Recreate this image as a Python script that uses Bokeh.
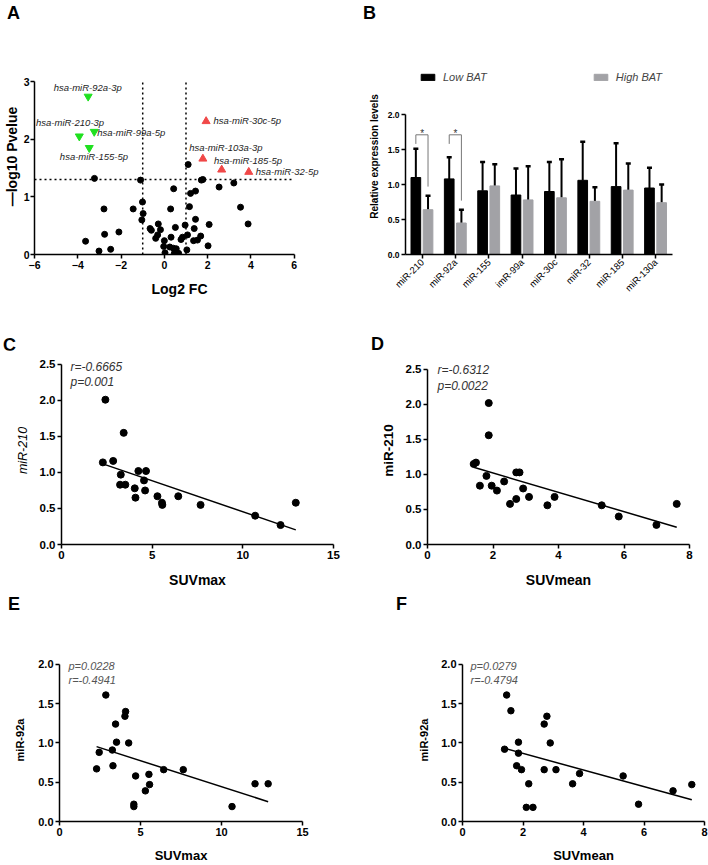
import math
import numpy as np
from bokeh.plotting import figure
from bokeh.layouts import column, row
from bokeh.models import (Range1d, FactorRange, FixedTicker, Label, ColumnDataSource,
                          PrintfTickFormatter, Div)
from bokeh.transform import dodge
from bokeh.core.properties import value
from bokeh.embed import file_html
from bokeh.resources import INLINE

FONT = "Liberation Sans"

# ---------------- Panel A : volcano ----------------
volc_fc = [-3.23, -1.10, -2.79, -3.64, -2.76, -3.02, -2.48, -2.10, -1.44, -1.01, -0.98, -1.04,
           -0.66, -0.60, -0.28, -0.18, -0.40, -0.31, 0.00, -0.03, 0.03, 0.25, 0.31, 0.41, 0.46,
           0.55, 0.66, 0.51, 0.29, 0.43, 0.77, 0.84, 0.96, 1.04, 1.07, 1.10, 1.16, 1.21, 1.35,
           1.38, 1.44, 1.44, 1.53, 1.68, 1.71, 1.78, 2.02, 2.07, 2.53, 3.21, 3.52, 3.87]
volc_p = [1.32, 1.29, 0.79, 0.23, 0.35, 0.06, 0.09, 0.39, 0.79, 0.91, 0.71, 0.60,
          0.45, 0.42, 0.53, 0.43, 0.28, 0.34, 0.24, 0.14, 0.03, 0.13, 0.30, 0.11, 0.02,
          0.10, 0.02, 0.47, 0.79, 1.14, 0.26, 0.30, 0.51, 0.08, 0.34, 1.56, 0.83, 1.06, 0.24,
          0.45, 1.10, 0.61, 0.25, 0.32, 1.29, 1.30, 0.15, 0.52, 1.17, 1.24, 0.82, 0.53]
down_names = ["hsa-miR-92a-3p", "hsa-miR-210-3p", "hsa-miR-99a-5p", "hsa-miR-155-5p"]
down_fc = [-3.52, -3.93, -3.24, -3.47]
down_p = [2.74, 2.05, 2.13, 1.85]
up_names = ["hsa-miR-30c-5p", "hsa-miR-103a-3p", "hsa-miR-185-5p", "hsa-miR-32-5p"]
up_fc = [1.93, 1.78, 2.65, 3.90]
up_p = [2.31, 1.66, 1.47, 1.43]
fc_cut = [-1, 1]
p_cut = 1.3
volc_xticks = [-6, -4, -2, 0, 2, 4, 6]
volc_yticks = [0, 1, 2, 3]

# ---------------- Panel B : bars ----------------
cats = ["miR-210", "miR-92a", "miR-155", "imR-99a", "miR-30c", "miR-32", "miR-185", "miR-130a"]
low_mean = [1.10, 1.08, 0.91, 0.85, 0.90, 1.06, 0.97, 0.95]
low_sd = [0.41, 0.31, 0.41, 0.38, 0.42, 0.55, 0.62, 0.29]
high_mean = [0.64, 0.45, 0.98, 0.78, 0.81, 0.76, 0.92, 0.74]
high_sd = [0.20, 0.19, 0.31, 0.48, 0.55, 0.20, 0.38, 0.26]
sig_cats = ["miR-210", "miR-92a"]
bar_yticks = [0, 0.5, 1.0, 1.5, 2.0]

# ---------------- Panels C-F : correlations ----------------
c_x = [2.42, 3.43, 2.28, 2.85, 3.27, 3.23, 3.52, 4.24, 4.66, 4.55, 4.04, 4.08, 4.61, 5.29,
       5.54, 5.56, 6.44, 7.67, 10.68, 12.08, 12.92]
c_y = [2.01, 1.55, 1.14, 1.16, 0.97, 0.83, 0.83, 1.02, 1.02, 0.89, 0.78, 0.65, 0.75, 0.67,
       0.58, 0.55, 0.67, 0.55, 0.40, 0.27, 0.58]
d_x = [1.41, 1.48, 1.87, 1.87, 1.80, 1.60, 1.96, 2.12, 2.34, 2.52, 2.71, 2.71, 2.81, 2.92,
       3.10, 3.66, 3.88, 5.32, 5.84, 6.99, 7.61]
d_y = [1.15, 1.17, 2.02, 1.56, 0.98, 0.84, 0.84, 0.77, 0.90, 0.58, 0.65, 1.03, 1.03, 0.80,
       0.68, 0.56, 0.68, 0.56, 0.40, 0.28, 0.58]
e_x = [2.86, 4.08, 4.04, 3.46, 3.52, 4.27, 3.26, 2.45, 2.29, 3.30, 4.70, 5.52, 5.56, 5.30,
       4.59, 4.59, 6.43, 7.64, 10.65, 12.07, 12.88]
e_y = [1.61, 1.40, 1.34, 1.24, 1.01, 1.00, 0.91, 0.88, 0.67, 0.71, 0.58, 0.60, 0.47, 0.39,
       0.22, 0.19, 0.66, 0.66, 0.19, 0.48, 0.48]
f_x = [1.46, 1.60, 1.39, 1.85, 1.85, 1.79, 1.95, 2.11, 2.33, 2.19, 2.70, 2.79, 2.90, 2.70,
       3.09, 3.64, 3.87, 5.31, 5.82, 6.96, 7.58]
f_y = [1.61, 1.41, 0.92, 1.01, 0.87, 0.71, 0.66, 0.18, 0.18, 0.48, 1.24, 1.34, 1.00, 0.66,
       0.66, 0.48, 0.61, 0.58, 0.22, 0.39, 0.47]
c_stats = ["r=-0.6665", "p=0.001"]
d_stats = ["r=-0.6312", "p=0.0022"]
e_stats = ["p=0.0228", "r=-0.4941"]
f_stats = ["p=0.0279", "r=-0.4794"]
max_xticks = [0, 5, 10, 15]
mean_xticks = [0, 2, 4, 6, 8]
y25_ticks = [0, 0.5, 1.0, 1.5, 2.0, 2.5]
y20_ticks = [0, 0.5, 1.0, 1.5, 2.0]

W = 354  # width of each figure (two per row, 708 total)


def make_fig(h, l, r, t, b, xr, yr):
    p = figure(width=W, height=h, min_border_left=l, min_border_right=r,
               min_border_top=t, min_border_bottom=b, x_range=xr, y_range=yr,
               output_backend="svg", toolbar_location=None)
    p.outline_line_color = None
    p.grid.grid_line_color = None
    p.background_fill_color = "white"
    p.border_fill_color = "white"
    return p


def style_axes(p, tick_size, xlab_size, ylab_size, xstand, ystand):
    for ax in p.axis:
        ax.axis_line_width = 1.5
        ax.axis_line_color = "black"
        ax.major_tick_line_width = 1.5
        ax.major_tick_line_color = "black"
        ax.major_tick_in = 0
        ax.major_tick_out = 4
        ax.minor_tick_line_color = None
        ax.major_label_text_font = FONT
        ax.major_label_text_font_size = tick_size
        ax.major_label_text_font_style = "bold"
        ax.major_label_text_color = "black"
        ax.major_label_standoff = 2
        ax.axis_label_text_font = FONT
        ax.axis_label_text_font_style = "bold"
        ax.axis_label_text_color = "black"
    p.xaxis.axis_label_text_font_size = xlab_size
    p.yaxis.axis_label_text_font_size = ylab_size
    p.xaxis.axis_label_standoff = xstand
    p.yaxis.axis_label_standoff = ystand


def stat_labels(p, texts, sx, sy, size, color, gap):
    for i, t in enumerate(texts):
        p.add_layout(Label(x=sx, y=sy - i * gap, x_units="screen", y_units="screen", text=t,
                           text_font=FONT, text_font_size=size, text_font_style="italic",
                           text_baseline="middle", text_align="left", text_color=color))


def letters_div(h, items):
    spans = "".join(
        '<span style="position:absolute;left:%dpx;top:%dpx;font-family:\'Liberation Sans\';'
        'font-size:18px;font-weight:bold;line-height:18px;color:#000;">%s</span>' % (lx, ly, t)
        for t, lx, ly in items)
    html = '<div style="position:relative;width:708px;height:%dpx;">%s</div>' % (h, spans)
    return Div(text=html, width=2 * W, height=h, margin=0)


# ---------- A ----------
a_top = 3.399  # frame reaches a little above the 3.0 axis end (shared frame with B)
pA = make_fig(276, 33, 30, 34, 46, Range1d(-6, 7.4), Range1d(0, a_top))
pA.segment(x0=fc_cut, x1=fc_cut, y0=[volc_yticks[0]] * 2, y1=[volc_yticks[-1]] * 2,
           line_color="black", line_width=1.5, line_dash="2 3")
pA.segment(x0=[volc_xticks[0]], x1=[volc_xticks[-1]], y0=[p_cut], y1=[p_cut],
           line_color="black", line_width=1.5, line_dash="2 3")
pA.scatter(volc_fc, volc_p, size=6, color="black")
pA.scatter(down_fc, down_p, marker="inverted_triangle", size=8, color="#1fe01f")
pA.scatter(up_fc, up_p, marker="triangle", size=8, color="#f04848")
lab_src = ColumnDataSource(dict(
    x=down_fc + up_fc, y=down_p + up_p, t=down_names + up_names,
    dx=[-34.5, -43.3, 3, -29.4, 7.4, -13.7, -7.7, 7],
    dy=[-9.5, -13.4, 0.7, 8.3, -0.7, -11.4, -9, -0.4]))
pA.text(x="x", y="y", text="t", x_offset="dx", y_offset="dy", source=lab_src,
        text_font=value(FONT), text_font_style="italic", text_font_size="9.5px",
        text_baseline="middle", text_align="left", text_color="#222222")
pA.xaxis.ticker = FixedTicker(ticks=volc_xticks)
pA.xaxis.bounds = (volc_xticks[0], volc_xticks[-1])
pA.yaxis.ticker = FixedTicker(ticks=volc_yticks)
pA.yaxis.bounds = (volc_yticks[0], volc_yticks[-1])
pA.xaxis.axis_label = "Log2 FC"
pA.yaxis.axis_label = "\u2014log10 Pvelue"
style_axes(pA, "10.5px", "14px", "14px", 9, 1)
pA.yaxis.major_label_standoff = 1

# ---------- B ----------
b_top = 2.8  # frame extends above the 2.0 axis end to hold the legend
pB = make_fig(276, 51, 36, 34, 46, FactorRange(*cats), Range1d(0, b_top))
bsrc = ColumnDataSource(dict(
    cat=cats, low=low_mean, high=high_mean,
    low_up=[m + s for m, s in zip(low_mean, low_sd)],
    high_up=[m + s for m, s in zip(high_mean, high_sd)]))
off_l, off_h, bw = -0.19, 0.175, 0.29
xl = dodge("cat", off_l, range=pB.x_range)
xh = dodge("cat", off_h, range=pB.x_range)
pB.segment(x0=xl, x1=xl, y0="low", y1="low_up", source=bsrc, line_color="black", line_width=2)
pB.segment(x0=xh, x1=xh, y0="high", y1="high_up", source=bsrc, line_color="black", line_width=2)
pB.scatter(x=xl, y="low_up", source=bsrc, marker="dash", size=5, line_width=2.5, line_color="black")
pB.scatter(x=xh, y="high_up", source=bsrc, marker="dash", size=5, line_width=2.5, line_color="black")
pB.vbar(x=xl, top="low", width=bw, source=bsrc, fill_color="black", line_color="black",
        legend_label="Low BAT")
pB.vbar(x=xh, top="high", width=bw, source=bsrc, fill_color="#a2a2a6", line_color="#a2a2a6",
        legend_label="High BAT")
sig_idx = [cats.index(c) for c in sig_cats]
bracket_top = max(low_mean[i] + low_sd[i] for i in sig_idx) + 0.20
ssrc = ColumnDataSource(dict(
    cat=sig_cats, top=[bracket_top] * len(sig_idx),
    left_end=[bracket_top - 0.13] * len(sig_idx),
    right_end=[high_mean[i] + high_sd[i] + 0.13 for i in sig_idx]))
sxl = dodge("cat", off_l, range=pB.x_range)
sxh = dodge("cat", off_h, range=pB.x_range)
pB.segment(x0=sxl, x1=sxl, y0="left_end", y1="top", source=ssrc, line_color="#777777", line_width=1)
pB.segment(x0=sxl, x1=sxh, y0="top", y1="top", source=ssrc, line_color="#777777", line_width=1)
pB.segment(x0=sxh, x1=sxh, y0="right_end", y1="top", source=ssrc, line_color="#777777", line_width=1)
pB.text(x=dodge("cat", 0, range=pB.x_range), y="top", text=value("*"), source=ssrc,
        text_font=value(FONT), text_font_size="10px", text_align="center",
        text_baseline="alphabetic", y_offset=-1, text_color="#333333")
pB.yaxis.ticker = FixedTicker(ticks=bar_yticks)
pB.yaxis.bounds = (bar_yticks[0], bar_yticks[-1])
pB.yaxis.formatter = PrintfTickFormatter(format="%.1f")
pB.yaxis.axis_label = "Relative expression levels"
style_axes(pB, "8.5px", "10px", "10px", 4, 5)
pB.xaxis.major_label_orientation = math.pi / 4
pB.xaxis.major_label_text_font_style = "normal"
pB.xaxis.major_label_text_font_size = "9.5px"
pB.x_range.range_padding = 0
leg = pB.legend[0]
leg.orientation = "horizontal"
leg.location = (14, 171)
leg.padding = 0
leg.margin = 0
leg.spacing = 105
leg.glyph_width = 17
leg.glyph_height = 8
leg.label_height = 10
leg.label_standoff = 7
leg.border_line_color = None
leg.background_fill_alpha = 0
leg.label_text_font = FONT
leg.label_text_font_style = "italic"
leg.label_text_font_size = "11px"


def corr_panel(h, l, r, t, b, xmax, ytop, xs, ys, xticks, yticks, xlabel, ylabel,
               msize, tsize, xlsize, ylsize, xstand, ystand):
    p = make_fig(h, l, r, t, b, Range1d(0, xmax), Range1d(0, ytop))
    fit = np.polyfit(xs, ys, 1)
    lx = [min(xs), max(xs)]
    p.line(lx, list(np.polyval(fit, lx)), line_color="black", line_width=1.5)
    p.scatter(xs, ys, size=msize, color="black")
    p.xaxis.ticker = FixedTicker(ticks=xticks)
    p.yaxis.ticker = FixedTicker(ticks=yticks)
    p.yaxis.bounds = (yticks[0], yticks[-1])
    p.yaxis.formatter = PrintfTickFormatter(format="%.1f")
    p.xaxis.axis_label = xlabel
    p.yaxis.axis_label = ylabel
    style_axes(p, tsize, xlsize, ylsize, xstand, ystand)
    return p


# ---------- C ----------
pC = corr_panel(240, 61, 21, 6, 45, max_xticks[-1], 2.61, c_x, c_y,
                max_xticks, y25_ticks, "SUVmax", "miR-210", 7, "11.5px", "14px", "12.5px", 10, 7)
pC.yaxis.axis_label_text_font_style = "italic"
stat_labels(pC, c_stats, 9, 178, "12px", "#333333", 15)

# ---------- D ----------
pD = corr_panel(240, 73, 19, 6, 45, mean_xticks[-1], 2.685, d_x, d_y,
                mean_xticks, y25_ticks, "SUVmean", "miR-210", 7, "11.5px", "14px", "13.5px", 10, 7)
stat_labels(pD, d_stats, 10, 175, "12px", "#333333", 16)

# ---------- E ----------
pE = corr_panel(245, 59, 52, 38, 41, max_xticks[-1], 2.075, e_x, e_y,
                max_xticks, y20_ticks, "SUVmax", "miR-92a", 6.5, "11px", "13px", "11px", 9, 9)
stat_labels(pE, e_stats, 9, 156, "11px", "#555555", 14)

# ---------- F ----------
pF = corr_panel(245, 108, 4, 38, 41, mean_xticks[-1], 2.075, f_x, f_y,
                mean_xticks, y20_ticks, "SUVmean", "miR-92a", 6.5, "11px", "13px", "11px", 9, 8)
stat_labels(pF, f_stats, 8, 156, "11px", "#555555", 14)

div1 = letters_div(24, [("A", 7, 4), ("B", 363, 4)])
div2 = letters_div(50, [("C", 3, 36), ("D", 371, 35)])
div3 = letters_div(30, [("E", 8, 5), ("F", 396, 5)])

layout = column(div1, row(pA, pB), div2, row(pC, pD), div3, row(pE, pF))
open("out.html", "w").write(file_html(layout, INLINE))
